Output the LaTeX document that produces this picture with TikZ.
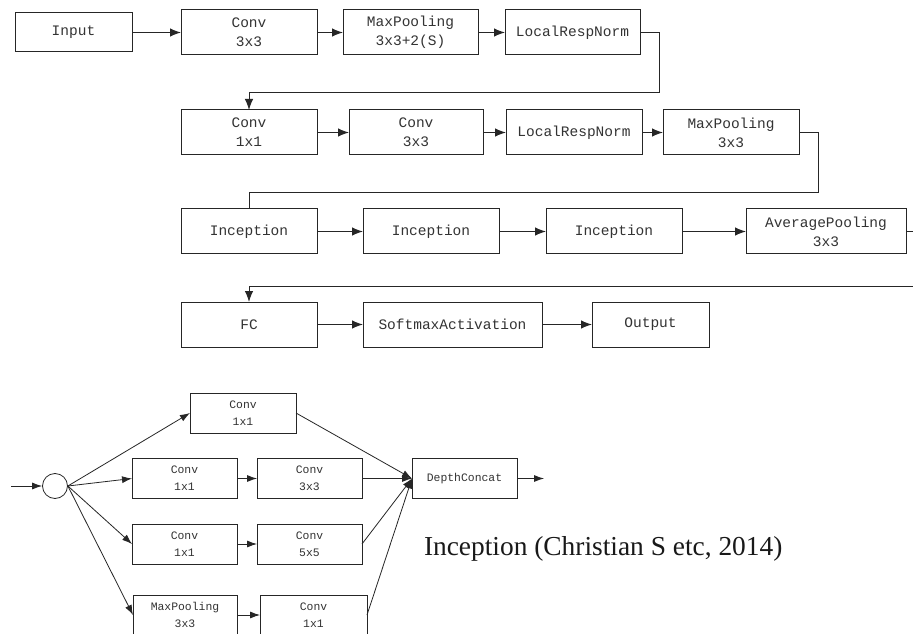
\documentclass[tikz,border=0pt]{standalone}
\usepackage{fontspec}
\setmainfont{Liberation Serif}
\newfontfamily\boxfont{Liberation Mono}
\usetikzlibrary{arrows.meta}

\begin{document}
\begin{tikzpicture}[x=1pt,y=1pt,
  layer/.style={draw=drawColor,line width=1pt,text=textColor,inner sep=0pt,outer sep=0pt,
    minimum width=136pt,minimum height=45pt,align=center,
    font=\boxfont\fontsize{14.5}{19}\selectfont},
  branch/.style={layer,line width=0.8pt,minimum width=105pt,minimum height=40pt,
    font=\boxfont\fontsize{11.4}{17}\selectfont},
  flow/.style={draw=drawColor,line width=1pt,-{Latex[length=11pt,width=8.5pt]}},
  wire/.style={draw=drawColor,line width=1pt},
  bflow/.style={draw=drawColor,line width=0.8pt,-{Latex[length=10pt,width=7pt]}}]
\definecolor{fillColor}{RGB}{255,255,255}
\definecolor{drawColor}{gray}{0.15}
\definecolor{textColor}{gray}{0.2}
\path[use as bounding box,fill=fillColor] (0,0) rectangle (913.00,633.00);
\begin{scope}
\path[clip] (  0.00,  0.00) rectangle (913.00,633.00);

% main network, row 1
\node[layer,minimum width=117pt,minimum height=39pt] (input) at ( 73.50,600.50) {Input};
\node[layer] (conv1) at (249.00,600.50) {Conv\\3x3};
\node[layer,minimum width=135pt] (pool1) at (410.50,600.50) {MaxPooling\\3x3+2(S)};
\node[layer,minimum width=135pt] (norm1) at (572.50,600.50) {LocalRespNorm};

% row 2
\node[layer] (conv2) at (249.00,500.50) {Conv\\1x1};
\node[layer,minimum width=134pt] (conv3) at (416.00,500.50) {Conv\\3x3};
\node[layer] (norm2) at (574.00,500.50) {LocalRespNorm};
\node[layer] (pool2) at (731.00,500.50) {MaxPooling\\3x3};

% row 3
\node[layer] (incA) at (249.00,401.50) {Inception};
\node[layer] (incB) at (431.00,401.50) {Inception};
\node[layer] (incC) at (614.00,401.50) {Inception};
\node[layer,minimum width=160pt] (avgpool) at (826.00,401.50) {AveragePooling\\3x3};

% row 4
\node[layer] (fc) at (249.00,308.50) {FC};
\node[layer,minimum width=179pt] (softmax) at (452.50,308.50) {SoftmaxActivation};
\node[layer,minimum width=117pt] (output) at (650.50,308.50) {Output};

\coordinate (turn1) at (659.00,540.00);
\coordinate (turn2) at (818.00,440.00);
\coordinate (turn3) at (925.00,347.00);

\draw[flow] (input) -- (conv1);
\draw[flow] (conv1) -- (pool1);
\draw[flow] (pool1) -- (norm1);
\draw[flow] (norm1.east) -| (turn1) -| (conv2.north);
\draw[flow] (conv2) -- (conv3);
\draw[flow] (conv3) -- (norm2);
\draw[flow] (norm2) -- (pool2);
\draw[wire] (pool2.east) -| (turn2) -| (incA.north);
\draw[flow] (incA) -- (incB);
\draw[flow] (incB) -- (incC);
\draw[flow] (incC) -- (avgpool);
\draw[flow] (avgpool.east) -| (turn3) -| (fc.north);
\draw[flow] (fc) -- (softmax);
\draw[flow] (softmax) -- (output);

% inception module
\coordinate (feed) at ( 11.00,147.00);
\node[circle,draw=drawColor,line width=0.8pt,minimum size=25pt,inner sep=0pt] (split) at ( 55.00,147.00) {};
\node[branch,minimum width=106pt] (b1) at (243.00,220.00) {Conv\\1x1};
\node[branch] (b2a) at (184.50,154.50) {Conv\\1x1};
\node[branch] (b2b) at (309.50,154.50) {Conv\\3x3};
\node[branch] (b3a) at (184.50, 89.00) {Conv\\1x1};
\node[branch] (b3b) at (309.50, 89.00) {Conv\\5x5};
\node[branch,minimum width=104pt] (b4a) at (185.00, 18.00) {MaxPooling\\3x3};
\node[branch,minimum width=107pt] (b4b) at (313.50, 18.00) {Conv\\1x1};
\node[branch] (concat) at (464.50,154.50) {DepthConcat};
\coordinate (exit) at (544.00,154.50);

\draw[bflow] (feed) -- (split);
\draw[bflow] (split.east) -- (b1.west);
\draw[bflow] (split.east) -- (b2a.west);
\draw[bflow] (split.east) -- (b3a.west);
\draw[bflow] (split.east) -- (b4a.west);
\draw[bflow] (b2a) -- (b2b);
\draw[bflow] (b3a) -- (b3b);
\draw[bflow] (b4a) -- (b4b);
\draw[bflow] (b1.east) -- (concat.west);
\draw[bflow] (b2b.east) -- (concat.west);
\draw[bflow] (b3b.east) -- (concat.west);
\draw[bflow] (b4b.east) -- (concat.west);
\draw[bflow] (concat) -- (exit);

\node[anchor=base west,inner sep=0pt,outer sep=0pt,text=black!90,font=\fontsize{27.4}{30}\selectfont] (caption) at (424.00, 78.00) {Inception (Christian S etc, 2014)};
\end{scope}
\end{tikzpicture}
\end{document}
